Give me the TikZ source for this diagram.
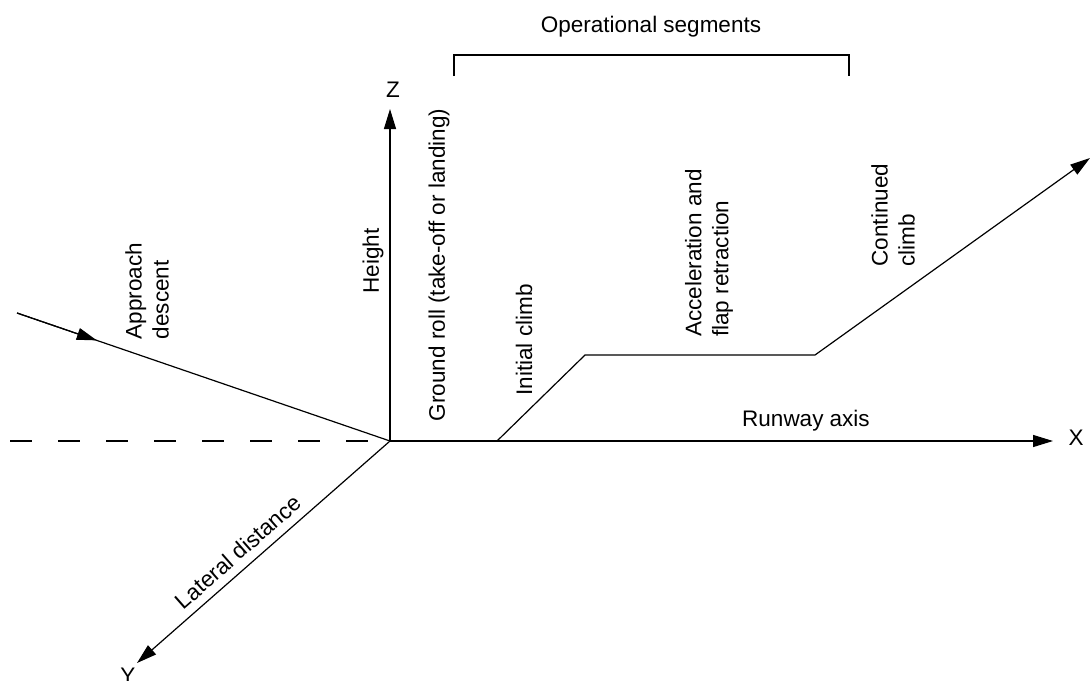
\documentclass[tikz,border=0pt]{standalone}
\usepackage{fontspec}
\setmainfont{Liberation Sans}
\usetikzlibrary{arrows.meta,calc}
\begin{document}
\begin{tikzpicture}[x=1pt,y=-1pt,
  every node/.style={font=\fontsize{22.5}{27}\selectfont, inner sep=0pt, text=black},
  ln/.style={line width=1.2pt},
  tip/.style={-{Triangle[length=20pt,width=12pt]}},
  rlab/.style={rotate=90, align=left}]
\useasboundingbox (0,0) rectangle (1091,680);
% points
\coordinate (O) at (390,441);
\coordinate (D) at (10,441);
\coordinate (A) at (17,313);
\coordinate (F0) at (497,441);
\coordinate (F1) at (585,355);
\coordinate (F2) at (815,355);
\coordinate (F3) at (1090,158);
\coordinate (B1) at (454,76);
\coordinate (B2) at (454,55);
\coordinate (B3) at (849,55);
\coordinate (B4) at (849,76);
% labels
\node (Xl) at (1076,438) {X};
\node (Zl) at (393,90) {Z};
\node (Yl) at (128,676) {Y};
\coordinate (Xt) at (1053,441);
\coordinate (Zt) at (390,109);
\coordinate (Yt) at (137,663);
% axes
\draw[ln, dash pattern=on 22pt off 26pt] (D) -- (O);
\draw[ln, tip] (O) -- (Xt);
\draw[ln, tip] (O) -- (Zt);
\draw[ln, tip] (O) -- (Yt);
% approach
\draw[ln] (A) -- (O);
\draw[ln, tip] (A) -- ($(A)!0.214!(O)$);
% flight path
\draw[ln, tip] (F0) -- (F1) -- (F2) -- (F3);
% bracket
\draw[ln] (B1) -- (B2) -- (B3) -- (B4);
% texts
\node (ops) at (651,27) {Operational segments};
\node (rw) at (806,421) {Runway axis};
\node[rlab] (ht) at (373,261) {Height};
\node[rlab] (gr) at (439,265) {Ground roll (take-off or landing)};
\node[rlab] (ic) at (524,340) {Initial climb};
\node[rlab] (ap) at (147,291) {Approach\\descent};
\node[rlab] (ac) at (709,253) {Acceleration and\\flap retraction};
\node[rlab] (cc) at (893,215) {Continued\\climb};
\node[rotate=41.3] (ld) at (238,552) {Lateral distance};
\end{tikzpicture}
\end{document}
